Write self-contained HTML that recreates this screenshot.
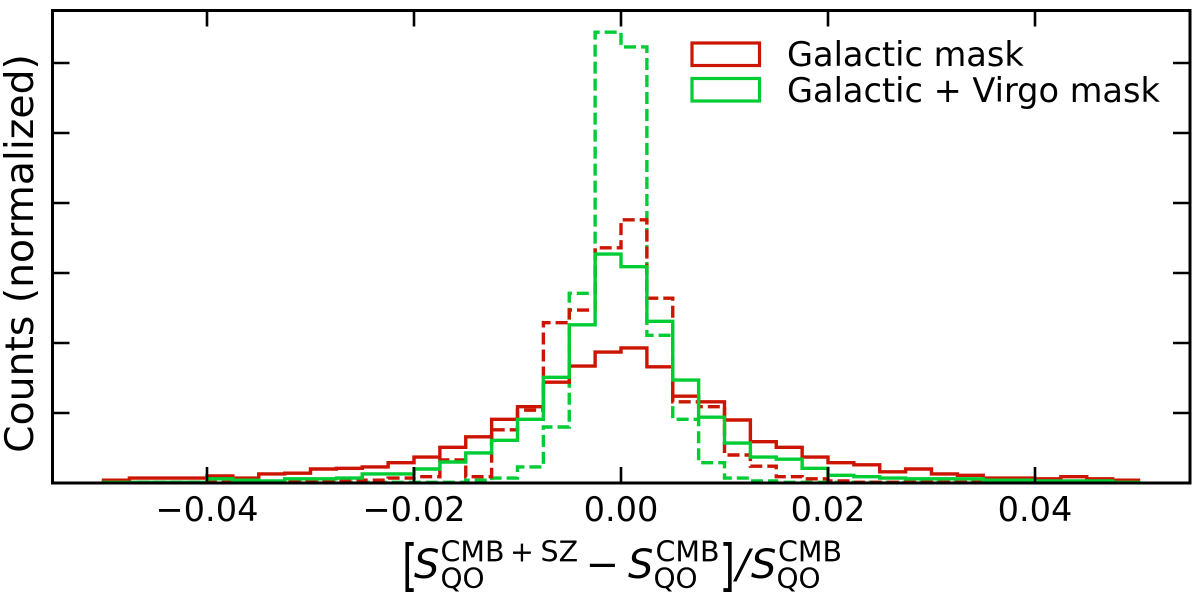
<!DOCTYPE html>
<html>
<head>
<meta charset="utf-8">
<style>
html,body{margin:0;padding:0;background:#fff;}
svg{display:block;}
text{font-family:"DejaVu Sans","Liberation Sans",sans-serif;fill:#000;}
</style>
</head>
<body>
<svg id="chart" xmlns="http://www.w3.org/2000/svg" width="1200" height="592" viewBox="0 0 1200 592">
  <rect x="0" y="0" width="1200" height="592" fill="#fff"/>
  <g id="plot"></g>
  <g id="ticks"></g>
  <rect x="52.5" y="10.5" width="1137.5" height="472.5" fill="none" stroke="#000" stroke-width="3"/>
  <g id="xlabels"></g>
  <text transform="translate(33,253.5) rotate(-90)" text-anchor="middle" font-size="39.3">Counts (normalized)</text>
  <g>
    <text x="0" y="0" font-size="50" transform="translate(402,584.6) scale(0.8,1.12)">[</text>
    <text x="414" y="578" font-size="40" font-style="italic">S</text>
    <text x="440.5" y="561.5" font-size="28.5">CMB</text>
    <text x="510" y="561.5" font-size="28.5">+</text>
    <text x="540.5" y="561.5" font-size="28.5">SZ</text>
    <text x="585.5" y="578" font-size="40">−</text>
    <text x="628" y="578" font-size="40" font-style="italic">S</text>
    <text x="655.5" y="561.5" font-size="28.5">CMB</text>
    <text x="440.5" y="587.5" font-size="28">QO</text>
    <text x="653.5" y="587.5" font-size="28">QO</text>
    <text x="0" y="0" font-size="50" transform="translate(719.5,584.6) scale(0.8,1.12)">]</text>
    <text x="736" y="578" font-size="40" font-style="italic">/</text>
    <text x="751" y="578" font-size="40" font-style="italic">S</text>
    <text x="778" y="561.5" font-size="28.5">CMB</text>
    <text x="776.5" y="587.5" font-size="28">QO</text>
  </g>
  <g>
    <rect x="692" y="43" width="67.5" height="22.5" fill="none" stroke="#cc1500" stroke-width="3.2"/>
    <text x="787" y="66" font-size="33.6">Galactic mask</text>
    <rect x="692" y="78.5" width="67.5" height="22.5" fill="none" stroke="#00cc33" stroke-width="3.2"/>
    <text x="787" y="102" font-size="33.6">Galactic + Virgo mask</text>
  </g>
</svg>
<script>
var binEdgeStart = -0.05;
var binWidth = 0.0025;
var xTicks = [-0.04, -0.02, 0, 0.02, 0.04];
var xTickLabels = ["\u22120.04", "\u22120.02", "0.00", "0.02", "0.04"];
var yTicks = [10, 20, 30, 40, 50, 60];
var galacticSolid = [0.4,0.7,0.7,0.7,1.0,0.7,1.3,1.4,2.0,2.1,2.3,2.9,3.7,5.1,6.6,9.1,10.9,14.4,16.7,18.7,19.3,16.6,12.4,11.6,9.0,5.9,5.1,3.7,2.9,2.6,1.6,2.0,1.3,1.1,0.7,0.7,0.6,0.9,0.6,0.4];
var virgoSolid = [0.1,0.1,0.1,0.1,0.6,0.4,0.3,0.6,0.6,0.7,1.3,1.3,2.0,3.0,4.3,6.1,9.1,15.1,22.6,32.7,30.9,23.1,14.7,9.4,5.7,3.7,3.4,2.1,1.1,0.9,0.7,0.6,0.6,0.6,0.4,0.4,0.3,0.3,0.3,0.1];
var galacticDashed = [0.1,0.1,0.1,0.1,0.1,0.1,0.1,0.3,0.3,0.3,0.4,0.7,0.9,3.3,0.9,7.6,10.4,22.9,24.7,33.6,37.6,26.4,11.6,10.9,4.0,2.4,0.9,0.6,0.3,0.1,0.1,0.1,0.1,0.1,0.1,0.1,0.1,0.1,0.1,0.1];
var virgoDashed = [0.1,0.1,0.1,0.1,0.1,0.1,0.1,0.1,0.1,0.1,0.1,0.1,0.1,0.1,0.4,0.7,2.3,8.0,27.1,64.4,62.3,21.1,9.1,2.9,0.7,0.3,0.1,0.1,0.1,0.1,0.1,0.1,0.1,0.1,0.1,0.1,0.1,0.1,0.1,0.1];

var SVGNS = "http://www.w3.org/2000/svg";
function xScale(v) { return 621 + v * 10350; }
function yScale(v) { return 483 - v * 7; }

function stepPath(values) {
  var d = "M" + xScale(binEdgeStart).toFixed(2) + " " + yScale(0);
  for (var i = 0; i < values.length; i++) {
    var x0 = xScale(binEdgeStart + i * binWidth).toFixed(2);
    var x1 = xScale(binEdgeStart + (i + 1) * binWidth).toFixed(2);
    var y = yScale(values[i]).toFixed(2);
    d += "L" + x0 + " " + y + "L" + x1 + " " + y;
  }
  d += "L" + xScale(binEdgeStart + values.length * binWidth).toFixed(2) + " " + yScale(0);
  return d;
}

var plot = document.getElementById("plot");
function addSeries(values, color, dashed, name) {
  var p = document.createElementNS(SVGNS, "path");
  p.setAttribute("d", stepPath(values));
  p.setAttribute("fill", "none");
  p.setAttribute("stroke", color);
  p.setAttribute("stroke-width", "3.4");
  p.setAttribute("stroke-linejoin", "miter");
  if (dashed) { p.setAttribute("stroke-dasharray", "12 5"); }
  
  
  plot.appendChild(p);
}
addSeries(virgoDashed, "#00cc33", true, "series-galactic-virgo-dashed");
addSeries(galacticDashed, "#cc1500", true, "series-galactic-dashed");
addSeries(galacticSolid, "#cc1500", false, "series-galactic-solid");
addSeries(virgoSolid, "#00cc33", false, "series-galactic-virgo-solid");

var tickGroup = document.getElementById("ticks");
function addTick(x1, y1, x2, y2, name) {
  var l = document.createElementNS(SVGNS, "line");
  l.setAttribute("x1", x1);
  l.setAttribute("y1", y1);
  l.setAttribute("x2", x2);
  l.setAttribute("y2", y2);
  l.setAttribute("stroke", "#000");
  l.setAttribute("stroke-width", "2.6");
  
  
  tickGroup.appendChild(l);
}
xTicks.forEach(function (t) {
  var x = xScale(t);
  addTick(x, 483, x, 467, "x-tick-bottom");
  addTick(x, 10.5, x, 26.5, "x-tick-top");
});
yTicks.forEach(function (t) {
  var y = yScale(t);
  addTick(52.5, y, 69.5, y, "y-tick-left");
  addTick(1190, y, 1173, y, "y-tick-right");
});

var xLabelGroup = document.getElementById("xlabels");
xTicks.forEach(function (t, i) {
  var el = document.createElementNS(SVGNS, "text");
  el.setAttribute("x", xScale(t));
  el.setAttribute("y", 521);
  el.setAttribute("text-anchor", "middle");
  el.setAttribute("font-size", "33.6");
  
  
  el.textContent = xTickLabels[i];
  xLabelGroup.appendChild(el);
});
</script>
</body>
</html>
